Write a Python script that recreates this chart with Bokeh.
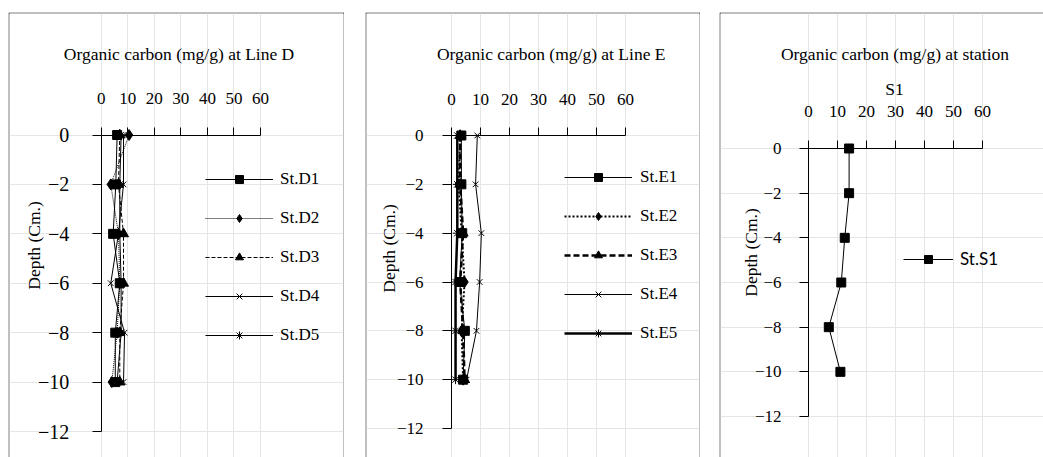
import math
from bokeh.plotting import figure
from bokeh.models import (LinearAxis, FixedTicker, Label, Legend, LegendItem,
                          Spacer, Range1d)
from bokeh.layouts import row, column
from bokeh.embed import file_html
from bokeh.resources import INLINE

# ---- data: organic carbon (mg/g) by sediment depth (cm) ----
depth = [0, -2, -4, -6, -8, -10]

line_d_names = ["St.D1", "St.D2", "St.D3", "St.D4", "St.D5"]
st_d1 = [6.0, 5.5, 4.5, 7.0, 5.3, 5.3]
st_d2 = [10.5, 3.6, 6.5, 7.0, 6.0, 4.0]
st_d3 = [7.0, 6.5, 8.4, 8.4, 7.0, 7.0]
st_d4 = [8.4, 8.4, 6.5, 3.6, 8.8, 8.4]
st_d5 = [7.5, 7.0, 7.0, 7.5, 7.5, 6.0]

line_e_names = ["St.E1", "St.E2", "St.E3", "St.E4", "St.E5"]
st_e1 = [3.4, 3.4, 3.7, 2.8, 4.6, 4.0]
st_e2 = [3.0, 2.5, 3.5, 4.5, 3.5, 4.0]
st_e3 = [3.0, 3.0, 4.0, 3.0, 4.0, 4.5]
st_e4 = [8.9, 8.3, 10.3, 9.7, 8.6, 5.2]
st_e5 = [2.0, 2.0, 2.0, 1.4, 1.4, 1.4]

station_names = ["St.S1"]
st_s1 = [14.0, 14.0, 12.5, 11.3, 7.0, 11.0]

x_ticks = [0, 10, 20, 30, 40, 50, 60]
y_ticks = [0, -2, -4, -6, -8, -10, -12]

SERIF = "Liberation Serif"
TOP = 12          # page y of the boxes' top edge
PAGE_H = 457


class Panel:
    """One boxed chart; page-pixel layout converted to data ranges."""

    def __init__(self, left, right, x0_px, x60_px, y0_px, y12_px, right_border=True):
        self.left, self.right = left, right
        self.kx = (x60_px - x0_px) / 60.0
        self.ky = (y12_px - y0_px) / 12.0
        self.x0_px, self.y0_px = x0_px, y0_px
        f_l = left + 1
        f_r = right - 1 if right_border else right
        f_t = TOP + 1
        f_b = PAGE_H
        xr = Range1d((f_l - x0_px) / self.kx, (f_r - x0_px) / self.kx)
        yr = Range1d((y0_px - f_b) / self.ky, (y0_px - f_t) / self.ky)
        self.p = figure(width=right - left, height=PAGE_H - TOP,
                        x_range=xr, y_range=yr,
                        x_axis_location=None, y_axis_location=None,
                        toolbar_location=None, tools="", output_backend="svg",
                        min_border=0, min_border_left=1,
                        min_border_right=1 if right_border else 0,
                        min_border_top=1, min_border_bottom=0)
        # the black border fill shows as a thin frame around each box
        self.p.border_fill_color = "black"
        self.p.background_fill_color = "white"
        self.p.outline_line_color = None

    def dx(self, px):
        return (px - self.x0_px) / self.kx

    def dy(self, py):
        return (self.y0_px - py) / self.ky

    def axes(self, ylab_size, x_std, y_std):
        xa = LinearAxis(fixed_location=0, bounds=(0, 60),
                        ticker=FixedTicker(ticks=x_ticks),
                        major_label_text_font=SERIF,
                        major_label_text_font_size="17px")
        xa.major_tick_out = 8
        xa.major_tick_in = 0
        xa.minor_tick_out = 0
        xa.minor_tick_in = 0
        xa.major_label_standoff = x_std
        xa.major_label_text_color = "black"
        xa.axis_line_color = "black"
        xa.major_tick_line_color = "black"
        self.p.add_layout(xa, "above")

        ya = LinearAxis(fixed_location=0, bounds=(-12, 0),
                        ticker=FixedTicker(ticks=y_ticks),
                        major_label_text_font=SERIF,
                        major_label_text_font_size=ylab_size)
        ya.major_tick_out = 9
        ya.major_tick_in = 0
        ya.minor_tick_out = 0
        ya.minor_tick_in = 0
        ya.major_label_standoff = y_std
        ya.major_label_text_color = "black"
        ya.axis_line_color = "black"
        ya.major_tick_line_color = "black"
        self.p.add_layout(ya, "left")

    def text(self, s, px, py, size="17.5px", angle=0.0, font=SERIF):
        self.p.add_layout(Label(x=self.dx(px), y=self.dy(py), text=s,
                                text_font=font, text_font_size=size,
                                text_align="center", text_baseline="middle",
                                angle=angle, text_color="black"))

    def series(self, xs, marker, size, dash="solid", width=1.0):
        ln = self.p.line(xs, depth, line_color="black", line_width=width,
                         line_dash=dash)
        sc = self.p.scatter(xs, depth, marker=marker, size=size,
                            fill_color="black", line_color="black", line_width=1)
        return [ln, sc]

    def legend(self, names, rens, loc_px, glyph_w, standoff, font=SERIF):
        items = [LegendItem(label=n, renderers=r) for n, r in zip(names, rens)]
        gh, sp = 20, 19
        n = len(items)
        height = n * gh + (n - 1) * sp
        x_left, first_cy = loc_px
        top = first_cy - gh / 2.0
        lg = Legend(items=items,
                    location=(x_left - (self.left + 1), PAGE_H - (top + height)),
                    orientation="vertical", glyph_width=glyph_w, glyph_height=gh,
                    label_height=gh, spacing=sp, label_standoff=standoff,
                    padding=0, margin=0, border_line_color=None,
                    background_fill_alpha=0.0,
                    label_text_font=font, label_text_font_size="17px",
                    label_text_color="black")
        self.p.add_layout(lg, "center")


# ---- Line D ----
pd = Panel(8, 344, 100.7, 260.0, 134.5, 431.0)
pd.axes("20px", 23, 23)
pd.text("Organic carbon (mg/g) at Line D", 178.5, 53)
pd.text("Depth (Cm.)", 33, 245, angle=math.pi / 2)
rd = [
    pd.series(st_d1, "square", 9),
    pd.series(st_d2, "diamond", 11, dash="1 1"),
    pd.series(st_d3, "triangle", 10, dash="4 2"),
    pd.series(st_d4, "x", 8),
    pd.series(st_d5, "asterisk", 9),
]
pd.legend(line_d_names, rd, (205, 179), 68, 7)

# ---- Line E ----
pe = Panel(365, 700, 451.0, 625.0, 135.0, 428.0)
pe.axes("17px", 23, 19)
pe.text("Organic carbon (mg/g) at Line E", 550.7, 53)
pe.text("Depth (Cm.)", 388, 248, angle=math.pi / 2)
re_ = [
    pe.series(st_e1, "square", 9),
    pe.series(st_e2, "diamond", 11, dash="2 2", width=2.0),
    pe.series(st_e3, "triangle", 10, dash="6 3", width=2.5),
    pe.series(st_e4, "x", 8),
    pe.series(st_e5, "asterisk", 9, width=2.5),
]
pe.legend(line_e_names, re_, (564, 177), 68, 8)

# ---- Station S1 ----
ps = Panel(719, 1043, 808.0, 982.0, 148.0, 416.0, right_border=False)
ps.axes("17px", 24, 18)
ps.text("Organic carbon (mg/g) at station", 894.5, 53)
ps.text("S1", 894, 88)
ps.text("Depth (Cm.)", 750, 252, angle=math.pi / 2)
rs = [ps.series(st_s1, "square", 9)]
ps.legend(station_names, rs, (903, 259), 50, 7, font="Lato")

layout = column(Spacer(height=TOP),
                row(Spacer(width=8), pd.p, Spacer(width=21), pe.p,
                    Spacer(width=19), ps.p))

open("out.html", "w").write(file_html(layout, INLINE))
